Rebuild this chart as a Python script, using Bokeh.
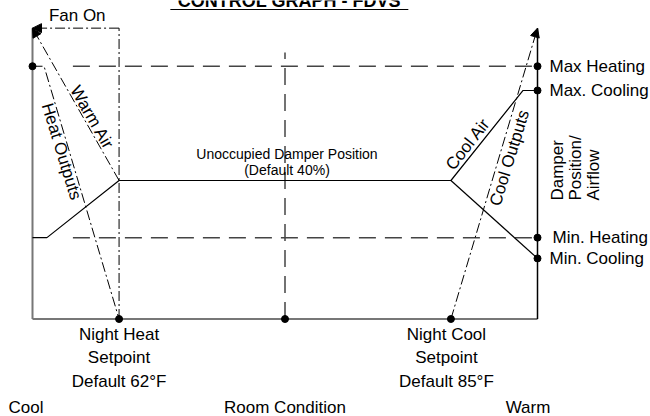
import math
from bokeh.plotting import figure
from bokeh.models import Range1d, Arrow, NormalHead
from bokeh.core.properties import value
from bokeh.embed import file_html
from bokeh.resources import INLINE

# ---------------- data ----------------
title_text = "CONTROL GRAPH - FDVS"
room_labels = ["Cool", "Room Condition", "Warm"]
room_f = [56, 73.5, 91]                 # cool end, middle, warm end (room condition, °F)
setpoint_f = [62, 85]                   # night heat / night cool setpoints
setpoint_labels = ["Night Heat\nSetpoint\nDefault 62°F",
                   "Night Cool\nSetpoint\nDefault 85°F"]
level_names = ["Max Heating", "Max. Cooling", "Min. Heating", "Min. Cooling"]
level_pct = [73, 66, 23.5, 17.5]        # damper position / airflow (%)
default_pct = 40
fan_on_pct = 84
mid_line_top_pct = 77
# unoccupied damper curve (solid)
damper_x = [56, 57, 62, 85, 90, 91]
damper_y = [23.5, 23.5, 40, 40, 66, 66]
cool_min_x = [85, 91]
cool_min_y = [40, 17.5]
# heat outputs (dash-dot)
heat_out_x = [56, 56.8, 62]
heat_out_y = [73, 73, 0]
ref_line_start_f = 58.8

# ---------------- geometry ----------------
W, H = 650, 416
x_lo_px, x_hi_px = 32, 537
y0_px, ky = 318.5, 3.4625
kx = (x_hi_px - x_lo_px) / (room_f[-1] - room_f[0])
xr = Range1d(room_f[0] - x_lo_px / kx, room_f[0] + (W - x_lo_px) / kx)
yr = Range1d(-(H - y0_px) / ky, y0_px / ky)

p = figure(width=W, height=H, x_range=xr, y_range=yr, output_backend="svg",
           toolbar_location=None, x_axis_type=None, y_axis_type=None,
           min_border=0, title=None, background_fill_color="white",
           border_fill_color="white", outline_line_color=None)
p.xgrid.visible = False
p.ygrid.visible = False

FONT = value("Liberation Sans")
DASHDOT = "10 3 2 3"
DASH = "17 9"

# frame: left and bottom grey, right black
p.line([room_f[0], room_f[0]], [0, fan_on_pct], line_color="#777777", line_width=2)
p.line([room_f[0], room_f[-1]], [0, 0], line_color="#777777", line_width=2)
p.line([room_f[-1], room_f[-1]], [0, fan_on_pct], line_color="black", line_width=1.5)

# dashed reference lines
p.line([ref_line_start_f, room_f[-1]], [level_pct[0], level_pct[0]], line_color="#444444",
       line_width=1.5, line_dash=DASH)
p.line([ref_line_start_f, room_f[-1]], [level_pct[2], level_pct[2]], line_color="#444444",
       line_width=1.5, line_dash=DASH)
p.line([room_f[1], room_f[1]], [0, mid_line_top_pct], line_color="#444444",
       line_width=1.5, line_dash=DASH)

# night heat vertical dash-dot
p.line([setpoint_f[0], setpoint_f[0]], [0, fan_on_pct], line_color="black", line_width=1,
       line_dash=DASHDOT)
# heat outputs
p.line(heat_out_x, heat_out_y, line_color="black", line_width=1, line_dash=DASHDOT)

# damper curves
p.line(damper_x, damper_y, line_color="black", line_width=1.2)
p.line(cool_min_x, cool_min_y, line_color="black", line_width=1.2)

# arrows
def arrow(x0, y0, x1, y1):
    p.add_layout(Arrow(end=NormalHead(size=9, fill_color="black", line_color="black"),
                       x_start=x0, y_start=y0, x_end=x1, y_end=y1,
                       line_color="black", line_width=1, line_dash=DASHDOT))

arrow(setpoint_f[0], fan_on_pct, room_f[0], fan_on_pct)          # fan on
arrow(setpoint_f[0], default_pct, room_f[0], fan_on_pct)         # warm air
arrow(setpoint_f[1], 0, room_f[-1], fan_on_pct)                  # cool outputs

# dots
dot_x = [room_f[0]] + [room_f[-1]] * 4 + [setpoint_f[0], room_f[1], setpoint_f[1]]
dot_y = [level_pct[0]] + level_pct + [0, 0, 0]
p.scatter(dot_x, dot_y, size=7, color="black")

# ---------------- texts ----------------
def txt(x, y, t, size="17px", align="left", base="middle", angle=0, xo=0, yo=0,
        lh=1.2, style="normal"):
    p.text(x=[x], y=[y], text=[t], text_font=FONT, text_font_size=size,
           text_align=align, text_baseline=base, angle=angle, x_offset=xo, y_offset=yo,
           text_line_height=lh, text_color="black", text_font_style=style)

# title (cut off at the top edge, as in the source) + underline
title_f = room_f[1] + 0.3
txt(title_f, yr.end, title_text, size="18px", align="center", base="middle", yo=0.5,
    style="bold")
half_w = 119 / kx
p.line([title_f - half_w, title_f + half_w], [yr.end - 9 / ky] * 2, line_color="black",
       line_width=1.2)

txt(room_f[0] + 3.1, fan_on_pct, "Fan On", align="center", base="middle", yo=-12.6)

# right-side level labels
offs = [12, 12, 15, 12]
for name, lv, o in zip(level_names, level_pct, offs):
    txt(room_f[-1], lv, name, xo=o)

txt(room_f[-1], 34.2, "Damper\nPosition/\nAirflow", align="left", base="top",
    angle=math.pi / 2, xo=10, lh=0.95)

# unoccupied label
txt(room_f[1], default_pct, "Unoccupied Damper Position\n(Default 40%)", size="14px",
    align="center", base="bottom", xo=2, yo=-3, lh=1.0)

# rotated labels along lines
txt(60.12, 58.2, "Warm Air", align="center", angle=math.radians(-60))
txt(58.01, 48.4, "Heat Outputs", align="center", angle=math.radians(-73))
txt(86.18, 50.5, "Cool Air", align="center", angle=math.radians(52))
txt(89.06, 46.5, "Cool Outputs", align="center", angle=math.radians(73))

# setpoint labels
txt(setpoint_f[0], 0, setpoint_labels[0], align="center", base="top", yo=6, lh=1.235)
txt(setpoint_f[1], 0, setpoint_labels[1], align="center", base="top", xo=-4.5, yo=6,
    lh=1.235)

# room condition labels
txt(room_f[0], 0, room_labels[0], align="left", base="middle", xo=-24, yo=88)
txt(room_f[1], 0, room_labels[1], align="center", base="middle", yo=88)
txt(room_f[2], 0, room_labels[2], align="center", base="middle", xo=-9.5, yo=88)

open("out.html", "w").write(file_html(p, INLINE))
